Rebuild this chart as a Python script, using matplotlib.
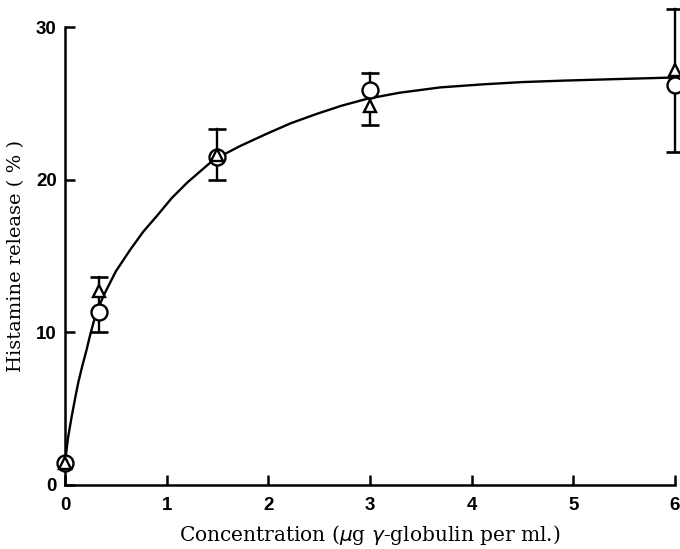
import matplotlib
matplotlib.use("Agg")
import matplotlib.pyplot as plt

# Histamine release vs. gamma-globulin concentration
conc_circle = [0.0, 0.33, 1.5, 3.0, 6.0]
release_circle = [1.45, 11.35, 21.5, 25.9, 26.2]

conc_triangle = [0.0, 0.33, 1.5, 3.0, 6.0]
release_triangle = [1.45, 12.7, 21.6, 24.8, 27.2]

# error bar extents (lower, upper) at each concentration
err_conc = [0.33, 1.5, 3.0, 6.0]
err_low = [10.0, 20.0, 23.6, 21.8]
err_high = [13.6, 23.3, 27.0, 31.2]

# fitted response curve, read point by point
curve_x = [0.0, 0.03, 0.066, 0.10, 0.13, 0.17, 0.21, 0.25, 0.295, 0.34, 0.39,
           0.50, 0.64, 0.77, 0.90, 1.05, 1.2, 1.46, 1.72, 1.98, 2.22, 2.47,
           2.72, 2.97, 3.29, 3.69, 4.11, 4.5, 4.93, 5.45, 6.0]
curve_y = [1.5, 3.1, 4.5, 5.7, 6.7, 7.8, 8.8, 9.9, 11.0, 11.8, 12.55,
           14.0, 15.4, 16.6, 17.6, 18.8, 19.8, 21.3, 22.2, 23.0, 23.7, 24.3,
           24.85, 25.3, 25.7, 26.05, 26.25, 26.4, 26.5, 26.6, 26.7]

x_ticks = [0, 1, 2, 3, 4, 5, 6]
y_ticks = [0, 10, 20, 30]

fig = plt.figure(figsize=(6.8, 5.49), dpi=100)
ax = fig.add_axes([0.0956, 0.1166, 0.897, 0.834])

ax.plot(curve_x, curve_y, color="black", lw=1.7, zorder=2, clip_on=False)

for x, lo, hi in zip(err_conc, err_low, err_high):
    ax.plot([x, x], [lo, hi], color="black", lw=1.7, zorder=1, clip_on=False)
    ax.plot([x], [lo], marker="_", ms=12.5, mew=1.9, color="black", clip_on=False)
    ax.plot([x], [hi], marker="_", ms=12.5, mew=1.9, color="black", clip_on=False)

ax.plot(conc_circle, release_circle, linestyle="none", marker="o", ms=11.5,
        mfc="white", mec="black", mew=1.7, zorder=3, clip_on=False)
ax.plot(conc_triangle, release_triangle, linestyle="none", marker="^", ms=9,
        mfc="white", mec="black", mew=1.7, zorder=4, clip_on=False)

ax.set_xlim(0, 6)
ax.set_ylim(0, 30)
ax.set_xticks(x_ticks)
ax.set_yticks(y_ticks)

for side in ("top", "right"):
    ax.spines[side].set_visible(False)
for side in ("left", "bottom"):
    ax.spines[side].set_linewidth(1.8)

ax.tick_params(direction="in", length=7, width=1.8)
ax.tick_params(axis="x", pad=9)
ax.tick_params(axis="y", pad=6)
for lab in ax.get_xticklabels() + ax.get_yticklabels():
    lab.set_fontfamily("Liberation Sans")
    lab.set_fontweight("bold")
    lab.set_fontsize(13.5)

serif = "DejaVu Serif"
ax.set_xlabel(r"Concentration ($\mu$g $\gamma$-globulin per ml.)",
              family=serif, fontsize=14.5, labelpad=6)
ax.set_ylabel("Histamine release ( % )", family=serif, fontsize=14,
              labelpad=8)

fig.savefig("out.png", dpi=100)
